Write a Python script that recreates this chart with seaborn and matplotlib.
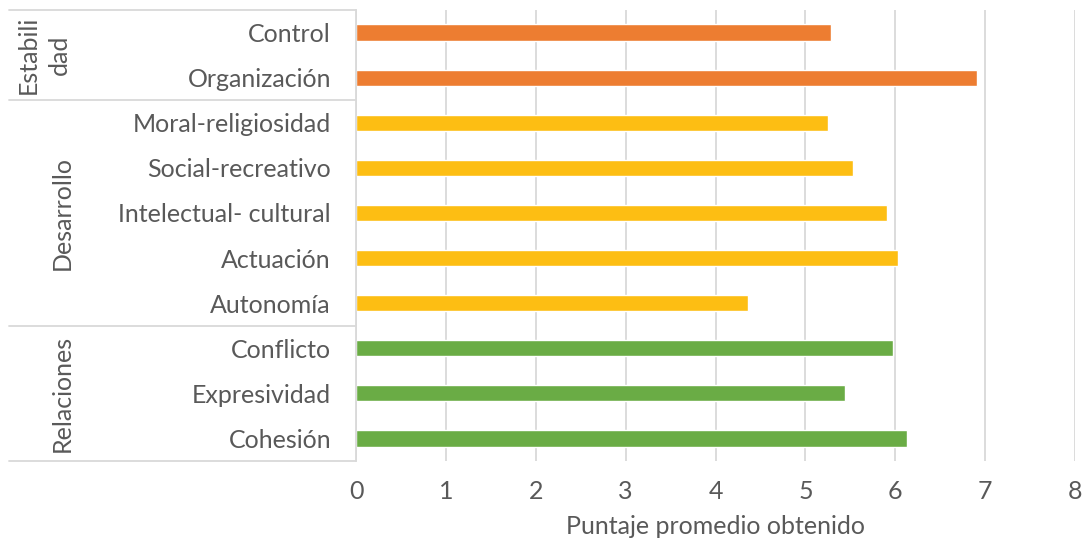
import matplotlib
matplotlib.use("Agg")
import matplotlib.pyplot as plt
import matplotlib.transforms as mtransforms
from matplotlib import font_manager
import seaborn as sns
import pandas as pd

# Dimensions of the family climate scale, top to bottom
dimensiones = ["Control", "Organización", "Moral-religiosidad", "Social-recreativo",
               "Intelectual- cultural", "Actuación", "Autonomía",
               "Conflicto", "Expresividad", "Cohesión"]
puntajes = [5.29, 6.91, 5.25, 5.53, 5.91, 6.03, 4.36, 5.98, 5.44, 6.13]
grupos = ["Estabilidad"] * 2 + ["Desarrollo"] * 5 + ["Relaciones"] * 3
grupo_etiquetas = ["Estabili\ndad", "Desarrollo", "Relaciones"]
grupo_tamanos = [2, 5, 3]
colores = {"Estabilidad": "#ED7D31", "Desarrollo": "#FDBE13", "Relaciones": "#6AAC45"}
x_ticks = [0, 1, 2, 3, 4, 5, 6, 7, 8]
x_titulo = "Puntaje promedio obtenido"

df = pd.DataFrame({"dimension": dimensiones, "puntaje": puntajes, "grupo": grupos})

sns.set_theme(style="white")
available = {f.name for f in font_manager.fontManager.ttflist}
family = "Liberation Sans Narrow" if "Liberation Sans Narrow" in available else "Lato"
plt.rcParams["font.family"] = [family, "DejaVu Sans"]

TXT = "#595959"
GRID = "#D9D9D9"

fig = plt.figure(figsize=(10.84, 5.44), dpi=100)
ax = fig.add_axes([356 / 1084, 1 - 461 / 544, 719 / 1084, 451 / 544])

sns.barplot(data=df, x="puntaje", y="dimension", hue="grupo", palette=colores,
            dodge=False, width=0.36, orient="h", legend=False, ax=ax,
            order=dimensiones, saturation=1)

ax.set_xlim(0, 8)
ax.set_ylim(9.5, -0.5)
ax.set_xticks(x_ticks)
ax.set_xticklabels([str(t) for t in x_ticks])
ax.xaxis.grid(True, color=GRID, linewidth=1.3)
ax.yaxis.grid(False)
ax.set_axisbelow(True)
for side in ["top", "right", "bottom"]:
    ax.spines[side].set_visible(False)
ax.spines["left"].set_color(GRID)
ax.spines["left"].set_linewidth(1.3)

fs = 18
ax.tick_params(axis="x", length=0, pad=14, labelsize=fs, labelcolor=TXT)
ax.tick_params(axis="y", length=0, pad=18, labelsize=fs, labelcolor=TXT)
ax.set_ylabel("")
ax.set_xlabel(x_titulo, fontsize=fs, color=TXT, labelpad=8)

# Multi-level category axis: group separators and rotated group names
trans = mtransforms.blended_transform_factory(ax.transAxes, ax.transData)
x_left = (9 - 356) / 719
bounds = [-0.5]
for n in grupo_tamanos:
    bounds.append(bounds[-1] + n)
for b in bounds:
    ax.plot([x_left, 0], [b, b], transform=trans, color=GRID, linewidth=1.3,
            clip_on=False)
for i, lab in enumerate(grupo_etiquetas):
    yc = (bounds[i] + bounds[i + 1]) / 2
    xc = (44 - 356) / 719 if "\n" in lab else (62 - 356) / 719
    ax.text(xc, yc, lab, transform=trans, rotation=90, ha="center", va="center",
            fontsize=fs, color=TXT, multialignment="center", linespacing=1.45)

fig.savefig("out.png", dpi=100)
